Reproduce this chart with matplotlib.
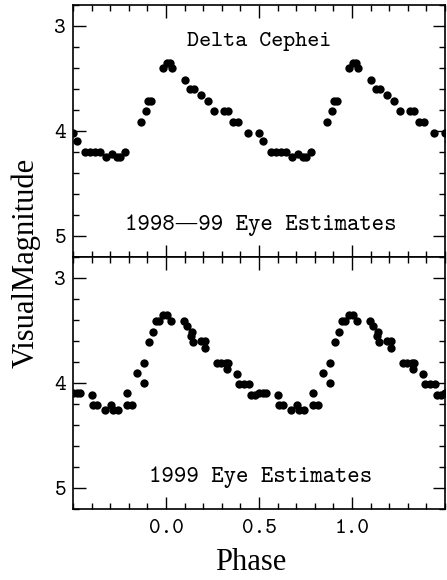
import numpy as np
import matplotlib
matplotlib.use("Agg")
import matplotlib.pyplot as plt
from matplotlib.ticker import MultipleLocator, FixedLocator

# One pulsation cycle of phase-folded eye estimates (phase 0..1)
phase_9899 = [0.005, 0.020, 0.030, 0.100, 0.130, 0.150, 0.190, 0.225, 0.260, 0.310,
              0.335, 0.360, 0.385, 0.440, 0.500, 0.520, 0.565, 0.590, 0.620, 0.645,
              0.680, 0.710, 0.735, 0.750, 0.780, 0.866, 0.890, 0.905, 0.920, 0.982]
mag_9899 = [3.355, 3.355, 3.40, 3.51, 3.60, 3.60, 3.66, 3.71, 3.81, 3.81,
            3.81, 3.91, 3.91, 4.02, 4.02, 4.10, 4.20, 4.20, 4.20, 4.20,
            4.25, 4.22, 4.25, 4.25, 4.20, 3.91, 3.81, 3.71, 3.71, 3.40]

phase_1999 = [0.003, 0.027, 0.095, 0.113, 0.133, 0.140, 0.147, 0.190, 0.210, 0.210,
              0.273, 0.298, 0.320, 0.335, 0.330, 0.380, 0.393, 0.420, 0.448, 0.458,
              0.480, 0.500, 0.520, 0.540, 0.603, 0.605, 0.630, 0.672, 0.702, 0.717,
              0.742, 0.788, 0.788, 0.818, 0.845, 0.882, 0.882, 0.910, 0.930, 0.948,
              0.960, 0.985]
mag_1999 = [3.355, 3.41, 3.41, 3.46, 3.555, 3.51, 3.605, 3.60, 3.60, 3.665,
            3.81, 3.81, 3.81, 3.81, 3.87, 3.91, 4.01, 4.01, 4.01, 4.11,
            4.11, 4.10, 4.10, 4.10, 4.11, 4.21, 4.21, 4.255, 4.21, 4.255,
            4.255, 4.10, 4.21, 4.21, 3.90, 3.81, 4.00, 3.61, 3.51, 3.41,
            3.41, 3.355]

cycle_shifts = [-1, 0, 1]
xticks = [0.0, 0.5, 1.0]
xticklabels = ["0.0", "0.5", "1.0"]
yticks = [3, 4, 5]
yticklabels = ["3", "4", "5"]
title_text = "Delta Cephei"
label_top = "1998\u201499 Eye Estimates"
label_bot = "1999 Eye Estimates"

TT = ["cmtt10", "DejaVu Serif"]

fig = plt.figure(figsize=(4.47, 5.80), dpi=100)
W, H = 447, 580
L, R = 73, 445
ax_top = fig.add_axes([L / W, 1 - 257 / H, (R - L) / W, 252 / H])
ax_bot = fig.add_axes([L / W, 1 - 509 / H, (R - L) / W, 252 / H])

for ax, ph, mg in [(ax_top, phase_9899, mag_9899), (ax_bot, phase_1999, mag_1999)]:
    ph = np.asarray(ph)
    mg = np.asarray(mg)
    for s in cycle_shifts:
        ax.plot(ph + s, mg, 'o', color='black', ms=6.0, mec='none')
    ax.set_xlim(-0.5, 1.5)
    ax.set_ylim(5.2, 2.8)
    ax.xaxis.set_major_locator(FixedLocator(xticks))
    ax.xaxis.set_minor_locator(MultipleLocator(0.1))
    ax.yaxis.set_major_locator(FixedLocator(yticks))
    ax.yaxis.set_minor_locator(MultipleLocator(0.2))
    ax.tick_params(which='both', direction='in', top=True, right=True, width=1.0, color='black')
    ax.tick_params(which='major', length=9)
    ax.tick_params(which='minor', length=4.5)
    ax.set_yticklabels(yticklabels, fontfamily=TT, fontsize=16)
    for sp in ax.spines.values():
        sp.set_linewidth(1.2)

ax_top.tick_params(axis='x', labelbottom=False)
ax_bot.set_xticklabels(xticklabels, fontfamily=TT, fontsize=16)
ax_bot.tick_params(axis='x', pad=7)
ax_top.tick_params(axis='y', pad=5)
ax_bot.tick_params(axis='y', pad=5)

ax_top.text(0.5, 0.857, title_text, transform=ax_top.transAxes, ha='center', va='center',
            fontfamily=TT, fontsize=16.5)
ax_top.text(0.505, 0.127, label_top, transform=ax_top.transAxes, ha='center', va='center',
            fontfamily=TT, fontsize=17)
ax_bot.text(0.505, 0.127, label_bot, transform=ax_bot.transAxes, ha='center', va='center',
            fontfamily=TT, fontsize=17)

fig.text(26 / W, 1 - 263 / H, "VisualMagnitude", rotation=90, ha='center', va='center',
         fontfamily="Liberation Serif", fontsize=22)
fig.text(251 / W, 1 - 562 / H, "Phase", ha='center', va='center',
         fontfamily="Liberation Serif", fontsize=22)

fig.savefig("out.png", dpi=100)
